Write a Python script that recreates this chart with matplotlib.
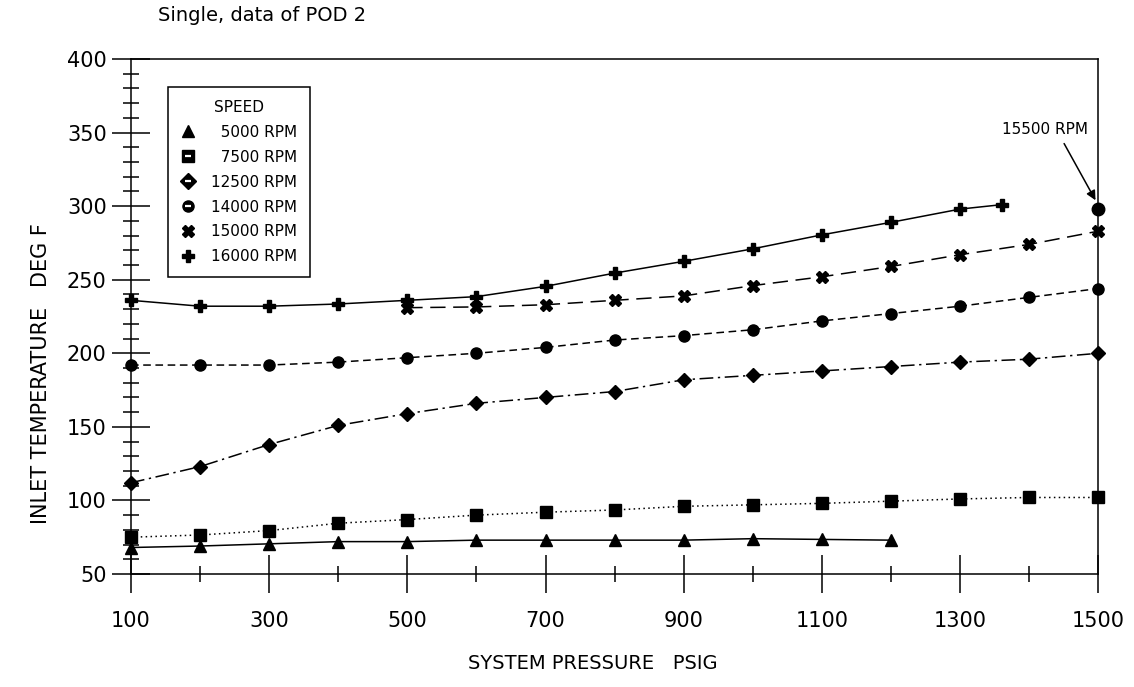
import matplotlib
matplotlib.use('Agg')
import matplotlib.pyplot as plt
from matplotlib.lines import Line2D
from matplotlib.legend_handler import HandlerTuple
from matplotlib.ticker import FixedLocator

# ---------------- data ----------------
pressure = [100, 200, 300, 400, 500, 600, 700, 800, 900, 1000, 1100, 1200, 1300, 1400, 1500]

p5000 = pressure[:12]
t5000 = [68, 69, 70.5, 72, 72, 73, 73, 73, 73, 74, 73.5, 73]

p7500 = pressure
t7500 = [75, 76.5, 79.5, 84.5, 87, 90, 92, 93.5, 96, 97, 98, 99.5, 101, 102, 102]

p12500 = pressure
t12500 = [112, 123, 138, 151, 159, 166, 170, 174, 182, 185, 188, 191, 194, 196, 200]

p14000 = pressure
t14000 = [192, 192, 192, 194, 197, 200, 204, 209, 212, 216, 222, 227, 232, 238, 244]

p15000 = pressure[4:]
t15000 = [231, 231.5, 233, 236, 239, 246, 252, 259, 267, 274, 283]

p16000 = [100, 200, 300, 400, 500, 600, 700, 800, 900, 1000, 1100, 1200, 1300, 1360]
t16000 = [236, 232, 232, 233.5, 236, 238.5, 245.5, 254.5, 262.5, 271, 280.5, 289, 298, 301]

p15500 = [1500]
t15500 = [298]

labels = ['5000 RPM', '7500 RPM', '12500 RPM', '14000 RPM', '15000 RPM', '16000 RPM']
x_major = [100, 300, 500, 700, 900, 1100, 1300, 1500]
x_minor = [200, 400, 600, 800, 1000, 1200, 1400]
y_major = [50, 100, 150, 200, 250, 300, 350, 400]

# ---------------- figure ----------------
plt.rcParams['font.family'] = ['DejaVu Sans']
fig = plt.figure(figsize=(11.34, 6.87), dpi=100)
ax = fig.add_axes([0.1155, 0.1645, 0.8530, 0.7496])

lw = 1.1
series = [
    (p5000, t5000, '^', (0, ()), 8, False),
    (p7500, t7500, 's', (0, (1, 2.2)), 8, True),
    (p12500, t12500, 'D', (0, (9, 3, 1.5, 3)), 7, True),
    (p14000, t14000, 'o', (0, (5, 3)), 8, True),
    (p15000, t15000, 'X', (0, (10, 5)), 8, False),
    (p16000, t16000, 'P', (0, ()), 9, False),
]
for xs, ys, mk, ls, ms, _ in series:
    ax.plot(xs, ys, color='black', linestyle=ls, linewidth=lw, marker=mk,
            markersize=ms, markerfacecolor='black', markeredgecolor='black',
            clip_on=False, zorder=3)

ax.plot(p15500, t15500, linestyle='none', marker='o', markersize=9,
        color='black', clip_on=False, zorder=4)

ax.annotate('15500 RPM', xy=(1496, 304), xytext=(1423, 352),
            fontsize=11, ha='center', va='center',
            arrowprops=dict(arrowstyle='-|>', color='black', lw=1.1,
                            relpos=(0.68, 0.0), shrinkA=3, shrinkB=0,
                            mutation_scale=14))

ax.set_xlim(100, 1500)
ax.set_ylim(50, 400)

ax.xaxis.set_major_locator(FixedLocator(x_major))
ax.xaxis.set_minor_locator(FixedLocator(x_minor))
ax.yaxis.set_major_locator(FixedLocator(y_major))
ax.yaxis.set_minor_locator(FixedLocator([v for v in range(50, 401, 10) if v % 50]))

ax.tick_params(axis='both', which='major', direction='inout', length=27,
               width=1.1, labelsize=15, color='black')
ax.tick_params(axis='both', which='minor', direction='inout', length=12,
               width=1.1, color='black')
ax.tick_params(axis='x', which='major', pad=13)
ax.tick_params(axis='y', which='major', pad=4)
for sp in ax.spines.values():
    sp.set_linewidth(1.1)
    sp.set_color('black')

ax.set_xlabel('SYSTEM PRESSURE   PSIG', fontsize=14)
ax.set_ylabel('INLET TEMPERATURE   DEG F', fontsize=15)
ax.xaxis.set_label_coords(0.477, -0.155)
ax.yaxis.set_label_coords(-0.083, 0.39)

fig.text(0.139, 0.978, 'Single, data of POD 2', fontsize=14, ha='left', va='center')

handles = []
for _, _, mk, _, _, bar in series:
    base = Line2D([], [], color='black', marker=mk, linestyle='none', markersize=8)
    if bar:
        stripe = Line2D([], [], color='white', marker='_', linestyle='none',
                        markersize=5, markeredgewidth=1.6)
        handles.append((base, stripe))
    else:
        handles.append(base)
leg_labels = ['\u2007' + l if len(l) == 8 else l for l in labels]
leg = ax.legend(handles, leg_labels, title='SPEED', loc='upper left',
                bbox_to_anchor=(0.038, 0.946), borderaxespad=0, fontsize=11,
                title_fontsize=11, frameon=True, fancybox=False, framealpha=1,
                edgecolor='black', handlelength=1.0, handletextpad=1.0,
                labelspacing=0.65, borderpad=0.85,
                handler_map={tuple: HandlerTuple(ndivide=1)})
leg.get_frame().set_linewidth(1.1)

fig.savefig('out.png', dpi=100, facecolor='white')
